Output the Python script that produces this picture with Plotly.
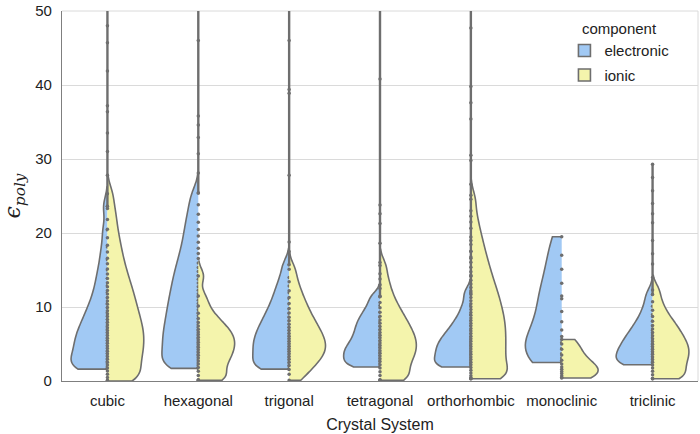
import plotly.graph_objects as go

categories = ["cubic", "hexagonal", "trigonal", "tetragonal", "orthorhombic", "monoclinic", "triclinic"]
components = ["electronic", "ionic"]

# bulk of each distribution (drawn as split violins)
cubic_electronic = [1.6, 1.62, 1.68, 1.75, 1.95, 2.32, 2.68, 3.04, 3.4, 3.75, 4.1, 4.45, 4.8, 5.15, 5.5, 5.86, 6.22, 6.6, 7.0, 7.4, 7.85, 8.3, 8.8, 9.3, 9.9, 10.5, 11.2, 12.0, 12.9, 13.9, 15.0, 16.4, 18.1, 20.4, 23.6]
cubic_ionic = [0.0, 0.02, 0.1, 0.47, 0.92, 1.35, 1.76, 2.16, 2.55, 2.93, 3.3, 3.67, 4.03, 4.39, 4.74, 5.09, 5.44, 5.79, 6.14, 6.49, 6.84, 7.2, 7.56, 7.93, 8.31, 8.7, 9.1, 9.51, 9.94, 10.37, 10.81, 11.27, 11.75, 12.24, 12.75, 13.29, 13.86, 14.47, 15.13, 15.84, 16.6, 17.44, 18.35, 19.35, 20.5, 21.83, 23.3, 25.3]
hexagonal_electronic = [1.7, 1.72, 1.78, 2.1, 2.48, 2.86, 3.23, 3.6, 3.97, 4.33, 4.69, 5.05, 5.41, 5.77, 6.14, 6.5, 6.87, 7.25, 7.63, 8.02, 8.41, 8.81, 9.22, 9.63, 10.05, 10.48, 10.91, 11.35, 11.8, 12.27, 12.75, 13.24, 13.74, 14.25, 14.79, 15.35, 15.94, 16.57, 17.23, 17.95, 18.74, 19.58, 20.48, 21.45, 22.55, 23.81, 25.4]
hexagonal_ionic = [0.1, 0.12, 0.16, 0.76, 1.33, 1.83, 2.29, 2.71, 3.11, 3.49, 3.86, 4.21, 4.56, 4.9, 5.24, 5.58, 5.92, 6.27, 6.63, 7.01, 7.43, 7.9, 8.45, 9.15, 10.15, 11.5, 14.2]
trigonal_electronic = [1.6, 1.62, 1.66, 2.03, 2.44, 2.83, 3.21, 3.58, 3.94, 4.29, 4.64, 4.99, 5.35, 5.71, 6.08, 6.46, 6.85, 7.26, 7.69, 8.15, 8.64, 9.17, 9.74, 10.39, 11.11, 11.92, 12.85, 14.0, 15.7]
trigonal_ionic = [0.1, 0.9, 1.55, 2.1, 2.55, 2.95, 3.32, 3.68, 4.02, 4.36, 4.69, 5.02, 5.36, 5.7, 6.06, 6.43, 6.82, 7.23, 7.66, 8.13, 8.63, 9.19, 9.8, 10.48, 11.27, 12.2, 13.4, 15.1]
tetragonal_electronic = [1.9, 1.92, 2.35, 2.75, 3.12, 3.48, 3.84, 4.2, 4.57, 4.96, 5.4, 5.88, 6.38, 6.9, 7.44, 8.0, 8.6, 9.3, 10.2, 11.4]
tetragonal_ionic = [0.1, 0.12, 0.16, 0.73, 1.26, 1.74, 2.2, 2.63, 3.02, 3.39, 3.75, 4.1, 4.45, 4.79, 5.13, 5.48, 5.83, 6.19, 6.56, 6.95, 7.36, 7.79, 8.25, 8.74, 9.29, 9.9, 10.6, 11.44, 12.5, 13.8, 15.6]
orthorhombic_electronic = [1.9, 1.92, 1.96, 2.35, 2.74, 3.1, 3.45, 3.79, 4.13, 4.47, 4.82, 5.18, 5.56, 5.96, 6.4, 6.9, 7.47, 8.15, 9.0, 10.2, 11.9]
orthorhombic_ionic = [0.3, 0.32, 0.36, 0.42, 0.71, 1.09, 1.46, 1.83, 2.19, 2.55, 2.9, 3.26, 3.61, 3.96, 4.31, 4.66, 5.01, 5.36, 5.71, 6.06, 6.41, 6.76, 7.11, 7.46, 7.81, 8.17, 8.53, 8.9, 9.27, 9.65, 10.04, 10.44, 10.85, 11.27, 11.7, 12.15, 12.62, 13.11, 13.62, 14.17, 14.76, 15.38, 16.04, 16.76, 17.55, 18.45, 19.45, 20.65, 22.25, 24.55]
monoclinic_electronic = [2.5, 2.7, 3.1, 3.7, 4.4, 5.2, 6.0, 6.9, 8.0, 9.4, 11.1, 11.5, 13.2, 15.1, 17.0, 19.5]
monoclinic_ionic = [0.4, 0.5, 0.7, 1.0, 1.3, 1.6, 1.9, 2.3, 2.8, 3.5, 4.3, 5.0, 5.6]
triclinic_electronic = [2.2, 2.22, 2.26, 2.6, 2.97, 3.32, 3.66, 4.0, 4.34, 4.69, 5.06, 5.45, 5.88, 6.35, 6.85, 7.42, 8.1, 8.97, 10.1, 11.7]
triclinic_ionic = [0.3, 0.32, 0.36, 0.85, 1.32, 1.75, 2.15, 2.53, 2.9, 3.25, 3.6, 3.94, 4.28, 4.62, 4.98, 5.34, 5.72, 6.13, 6.56, 7.02, 7.51, 8.06, 8.72, 9.56, 10.7, 12.3]

# sparse high-value electronic samples (thin upper tails, shown as the strip above each violin)
cubic_electronic_tail = [27.8, 31.0, 33.5, 36.4, 37.2, 41.9, 45.7, 48.0, 56.0, 70.0]
hexagonal_electronic_tail = [28.1, 30.7, 32.9, 34.6, 35.8, 46.0, 55.0, 68.0]
trigonal_electronic_tail = [17.5, 18.8, 27.8, 38.9, 39.4, 46.0, 58.0, 75.0]
tetragonal_electronic_tail = [13.0, 14.5, 16.0, 18.6, 21.3, 22.6, 23.8, 40.8, 60.0]
orthorhombic_electronic_tail = [14.3, 16.6, 17.5, 19.0, 21.5, 23.0, 25.1, 26.6, 29.8, 30.5, 35.4, 37.6, 39.8, 47.7, 62.0]
monoclinic_electronic_tail = []
triclinic_electronic_tail = [14.0, 15.8, 17.2, 19.0, 21.4, 22.6, 24.0, 25.7, 27.5, 29.3]

electronic_values = [cubic_electronic, hexagonal_electronic, trigonal_electronic, tetragonal_electronic,
                     orthorhombic_electronic, monoclinic_electronic, triclinic_electronic]
ionic_values = [cubic_ionic, hexagonal_ionic, trigonal_ionic, tetragonal_ionic,
                orthorhombic_ionic, monoclinic_ionic, triclinic_ionic]
electronic_tails = [cubic_electronic_tail, hexagonal_electronic_tail, trigonal_electronic_tail,
                    tetragonal_electronic_tail, orthorhombic_electronic_tail, monoclinic_electronic_tail,
                    triclinic_electronic_tail]

# kernel bandwidths and whether the top of the density is tapered (style of the estimate)
bw_electronic = [1.3, 1.3, 1.1, 0.8, 0.9, 2.5, 1.0]
bw_ionic = [1.3, 1.0, 1.1, 1.1, 1.3, 1.2, 1.0]
taper_electronic = [True, True, True, True, True, False, True]
taper_ionic = [True, True, True, True, True, False, True]

y_ticks = [0, 10, 20, 30, 40, 50]

fill = {"electronic": "#a1c9f4", "ionic": "#f4f4ac"}
side = {"electronic": "negative", "ionic": "positive"}
edge = "#6e6e6e"
font_family = "Liberation Sans, Arial, sans-serif"

fig = go.Figure()
for comp, series, bws, tapers in [("electronic", electronic_values, bw_electronic, taper_electronic),
                                  ("ionic", ionic_values, bw_ionic, taper_ionic)]:
    for i, (cat, vals, bw, tp) in enumerate(zip(categories, series, bws, tapers)):
        hi = max(vals) + (2.0 * bw if tp else 0.0)
        fig.add_trace(go.Violin(
            x=[cat] * len(vals), y=vals,
            name=comp, legendgroup=comp, showlegend=(i == 0),
            side=side[comp], bandwidth=bw,
            spanmode="manual", span=[min(vals), hi],
            scalemode="width", width=0.8,
            points="all", pointpos=0, jitter=0,
            marker=dict(size=3.5, color=edge),
            line=dict(color=edge, width=1.6),
            fillcolor=fill[comp], opacity=1,
            hoverinfo="skip",
        ))

# thin upper tails: strip of samples joined along the violin axis
for cat, core, tail in zip(categories, electronic_values, electronic_tails):
    if not tail:
        continue
    ys = [max(core)] + tail
    fig.add_trace(go.Scatter(
        x=[cat] * len(ys), y=ys, mode="lines+markers",
        line=dict(color=edge, width=2.4),
        marker=dict(size=3.5, color=edge),
        showlegend=False, hoverinfo="skip", cliponaxis=True,
    ))

fig.update_layout(
    width=700, height=434,
    margin=dict(l=62, r=2, t=7, b=53),
    paper_bgcolor="white", plot_bgcolor="white",
    violinmode="overlay", violingap=0, violingroupgap=0,
    font=dict(family=font_family, size=15, color="#222222"),
    legend=dict(
        title=dict(text="component", side="top center", font=dict(size=15)),
        x=0.79, y=0.99, xanchor="left", yanchor="top",
        bgcolor="rgba(0,0,0,0)", font=dict(size=15), tracegroupgap=2,
    ),
    xaxis=dict(
        categoryorder="array", categoryarray=categories,
        showgrid=False, showline=True, linecolor="#7f7f7f", linewidth=1.3,
        ticks="", ticklabelstandoff=6, tickfont=dict(size=15, color="#222222"),
        title=dict(text="Crystal System", font=dict(size=16, color="#222222"), standoff=10),
        range=[-0.5, len(categories) - 0.5],
    ),
    yaxis=dict(
        range=[0, 50], tickvals=y_ticks, ticktext=[str(t) for t in y_ticks],
        ticklabeloverflow="allow",
        showgrid=True, gridcolor="#dadada", gridwidth=1,
        zeroline=False, showline=True, linecolor="#7f7f7f", linewidth=1.3,
        ticks="", ticklabelstandoff=6, tickfont=dict(size=15, color="#222222"),
        title=dict(text="<i>ϵ<sub>poly</sub></i>",
                   font=dict(size=22, family="DejaVu Serif, Liberation Serif, serif", color="#222222"),
                   standoff=14),
    ),
    shapes=[
        dict(type="line", xref="paper", yref="paper", x0=1, x1=1, y0=0, y1=1,
             line=dict(color="#dadada", width=1), layer="below"),
        dict(type="line", xref="paper", yref="paper", x0=0, x1=1, y0=1, y1=1,
             line=dict(color="#dadada", width=1), layer="below"),
    ],
)

fig.write_html("out.html", config={"displayModeBar": False},
               post_script="document.body.style.margin='0';document.body.style.padding='0';")
